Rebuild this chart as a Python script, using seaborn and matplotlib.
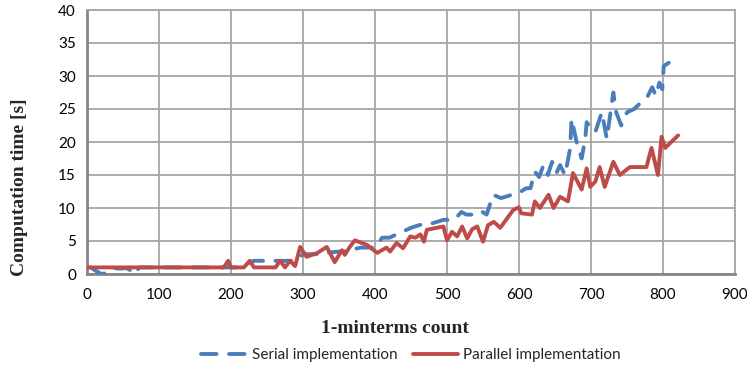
import numpy as np
import pandas as pd
import matplotlib
matplotlib.use("Agg")
import matplotlib.pyplot as plt
import seaborn as sns

serial_x = [5, 12, 20, 30, 38, 45, 55, 63, 68, 72, 100, 150, 200, 210, 220, 232, 250, 270, 290,
            300, 320, 340, 360, 380, 400, 410, 420, 430, 440, 450, 470, 480, 495, 510, 520, 527,
            540, 548, 555, 564, 575, 590, 600, 610, 616, 622, 628, 634, 640, 646, 652, 657, 664,
            671, 673, 680, 687, 692, 694, 700, 706, 715, 722, 731, 735, 742, 750, 760, 779, 785,
            790, 795, 799, 801, 808]
serial_y = [1.0, 0.5, 0.0, 0.2, 0.9, 0.8, 0.9, 0.4, 0.0, 1.0, 1.0, 1.0, 1.0, 1.0, 1.5, 2.0, 2.0, 2.0, 2.0,
            3.0, 3.0, 3.3, 3.5, 4.0, 4.0, 5.5, 5.5, 6.0, 6.5, 7.0, 7.7, 7.7, 8.2, 8.2, 9.4, 9.0,
            9.0, 9.5, 9.0, 12.0, 11.5, 12.0, 12.3, 13.0, 13.0, 15.5, 14.7, 16.5, 15.0, 17.0, 15.3, 16.5, 15.0,
            19.0, 23.5, 20.0, 17.5, 20.5, 23.0, 22.0, 21.5, 24.5, 20.5, 27.5, 24.5, 22.5, 24.5, 25.0, 27.0, 28.3,
            27.0, 29.0, 28.0, 31.5, 32.0]

parallel_x = [0, 190, 196, 200, 218, 226, 232, 262, 268, 275, 282, 289, 296, 305, 320, 333, 344, 354,
              358, 365, 372, 389, 403, 416, 421, 430, 439, 449, 456, 463, 468, 472, 495, 500, 507,
              514, 521, 528, 535, 542, 550, 557, 565, 574, 592, 600, 603, 618, 622, 629, 641, 648,
              657, 668, 675, 687, 694, 699, 706, 712, 719, 731, 740, 754, 777, 784, 793, 798, 803, 821]
parallel_y = [1.0, 1.0, 2.0, 1.0, 1.0, 2.0, 1.0, 1.0, 2.0, 1.0, 2.0, 1.2, 4.1, 2.6, 3.2, 4.1, 1.8, 3.6,
              2.9, 4.1, 5.1, 4.4, 3.2, 4.0, 3.4, 4.7, 3.9, 5.7, 5.5, 6.0, 4.9, 6.7, 7.2, 5.1, 6.4,
              5.7, 7.2, 5.4, 6.8, 7.2, 4.9, 7.4, 7.9, 7.0, 9.7, 10.1, 9.2, 9.0, 11.0, 10.0, 12.0, 10.0,
              11.7, 11.0, 15.3, 12.8, 16.0, 13.2, 14.0, 16.2, 13.2, 17.0, 15.0, 16.2, 16.2, 19.1, 15.0, 20.8, 19.1, 21.0]

x_ticks = list(range(0, 901, 100))
y_ticks = list(range(0, 41, 5))

sns.set_theme(style="white")
plt.rcParams['font.family'] = ['Lato', 'DejaVu Sans']

fig = plt.figure(figsize=(7.47, 3.67), dpi=100)
ax = fig.add_axes([87/747, 1-274/367, (735-87)/747, (274-10)/367])

blue = "#4A7EBB"
red = "#BE4B48"

df_s = pd.DataFrame({"x": serial_x, "y": serial_y})
df_p = pd.DataFrame({"x": parallel_x, "y": parallel_y})

sns.lineplot(data=df_s, x="x", y="y", ax=ax, color=blue, lw=2.8, sort=False,
             estimator=None, label="Serial implementation", zorder=3)
ax.lines[-1].set_dashes([4.0, 3.2])
ax.lines[-1].set_dash_capstyle("round")
sns.lineplot(data=df_p, x="x", y="y", ax=ax, color=red, lw=2.8, sort=False,
             estimator=None, label="Parallel implementation", zorder=4)
ax.lines[-1].set_solid_joinstyle("round")

ax.set_xlim(0, 900)
ax.set_ylim(0, 40)
ax.set_xticks(x_ticks)
ax.set_yticks(y_ticks)
ax.grid(True, color="#A6A6A6", lw=1.3)
ax.set_axisbelow(True)
for s in ["top", "right"]:
    ax.spines[s].set_color("#A6A6A6")
    ax.spines[s].set_linewidth(1.3)
for s in ["left", "bottom"]:
    ax.spines[s].set_color("#868686")
    ax.spines[s].set_linewidth(2.0)
ax.tick_params(axis="both", length=0, labelsize=11, colors="black", pad=8)
ax.tick_params(axis="x", pad=10)

ax.set_xlabel("1-minterms count", family="Liberation Serif", fontweight="bold", fontsize=14)
ax.xaxis.set_label_coords((395-87)/(735-87), -(320-274)/264)
ax.set_ylabel("Computation time [s]", family="Liberation Serif", fontweight="bold", fontsize=14)
ax.yaxis.set_label_coords(-(87-28)/648, (274-187)/264)

leg = ax.legend(loc="center", bbox_to_anchor=(411/747, 1-355/367), bbox_transform=fig.transFigure,
                ncol=2, frameon=False, fontsize=11, handlelength=3.0, columnspacing=1.0,
                handletextpad=0.3)

fig.savefig("out.png", dpi=100)
